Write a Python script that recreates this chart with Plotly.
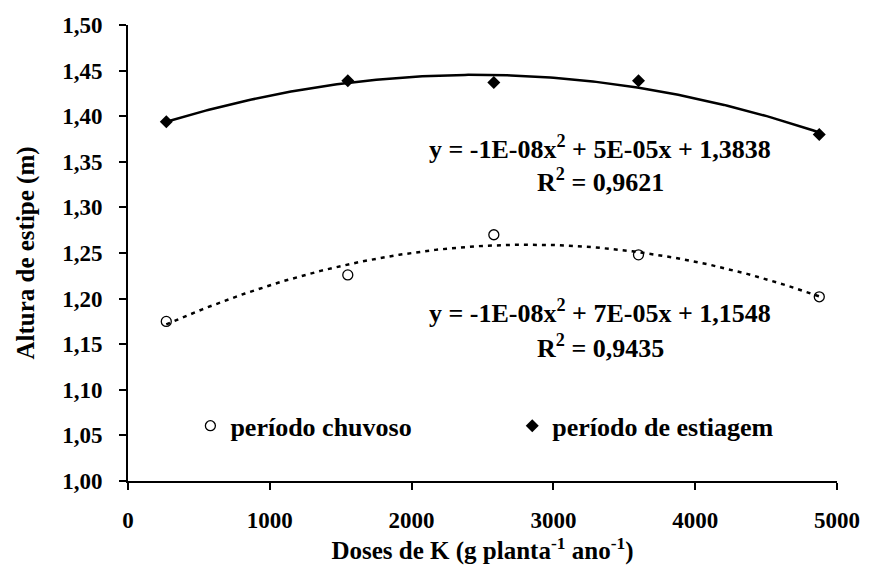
import numpy as np
import plotly.graph_objects as go

# Data
doses = [270, 1550, 2580, 3600, 4875]
chuvoso = [1.175, 1.226, 1.270, 1.248, 1.202]
estiagem = [1.394, 1.439, 1.437, 1.439, 1.380]

y_ticks = [1.00, 1.05, 1.10, 1.15, 1.20, 1.25, 1.30, 1.35, 1.40, 1.45, 1.50]
y_ticktext = ["1,00", "1,05", "1,10", "1,15", "1,20", "1,25", "1,30", "1,35", "1,40", "1,45", "1,50"]
x_ticks = [0, 1000, 2000, 3000, 4000, 5000]

eq_estiagem = ["y = -1E-08x<sup>2</sup> + 5E-05x + 1,3838", "R<sup>2</sup> = 0,9621"]
eq_chuvoso = ["y = -1E-08x<sup>2</sup> + 7E-05x + 1,1548", "R<sup>2</sup> = 0,9435"]

FONT = "Liberation Serif"

# Quadratic trend lines (regression of the data)
xs = np.linspace(min(doses), max(doses), 200)
fit_c = np.polyval(np.polyfit(doses, chuvoso, 2), xs)
fit_e = np.polyval(np.polyfit(doses, estiagem, 2), xs)

fig = go.Figure()
fig.add_trace(go.Scatter(x=xs, y=fit_e, mode="lines", line=dict(color="black", width=2.5),
                         showlegend=False, hoverinfo="skip"))
fig.add_trace(go.Scatter(x=xs, y=fit_c, mode="lines", line=dict(color="black", width=2.5, dash="4px,5px"),
                         showlegend=False, hoverinfo="skip"))
fig.add_trace(go.Scatter(x=doses, y=chuvoso, mode="markers", name="<b>período chuvoso</b>",
                         legend="legend",
                         marker=dict(symbol="circle-open", size=10, color="black", line=dict(width=1.3))))
fig.add_trace(go.Scatter(x=doses, y=estiagem, mode="markers", name="<b>período de estiagem</b>",
                         legend="legend2",
                         marker=dict(symbol="diamond", size=10, color="black")))

def eq_annot(lines, xc, y1, y2):
    out = []
    for txt, yy in zip(lines, (y1, y2)):
        out.append(dict(x=xc, y=yy, xref="x", yref="y", text="<b>" + txt + "</b>", showarrow=False,
                        font=dict(family=FONT, size=26, color="black"), xanchor="center", yanchor="middle"))
    return out

annots = eq_annot(eq_estiagem, 3330, 1.366, 1.330) + eq_annot(eq_chuvoso, 3330, 1.186, 1.148)

leg_common = dict(orientation="h", yanchor="middle", xanchor="left", bgcolor="rgba(0,0,0,0)",
                  font=dict(family=FONT, size=26, color="black"), itemwidth=30)

fig.update_layout(
    width=872, height=568,
    margin=dict(l=128, r=28, t=25, b=82),
    plot_bgcolor="white", paper_bgcolor="white",
    font=dict(family=FONT, size=18, color="black"),
    annotations=annots,
    legend=dict(x=0.088, y=0.121, **leg_common),
    legend2=dict(x=0.542, y=0.121, **leg_common),
    xaxis=dict(range=[0, 5000], tickvals=x_ticks, ticktext=["<b>%d</b>" % v for v in x_ticks],
               showline=True, linecolor="black", linewidth=2, ticks="outside", ticklen=7, tickwidth=2,
               tickcolor="black", showgrid=False, zeroline=False, ticklabelstandoff=10,
               tickfont=dict(family=FONT, size=23),
               title=dict(text="<b>Doses de K (g planta<sup>-1</sup> ano<sup>-1</sup>)</b>",
                          font=dict(family=FONT, size=25), standoff=6)),
    yaxis=dict(range=[1.0, 1.5], tickvals=y_ticks, ticktext=["<b>%s</b>" % t for t in y_ticktext],
               showline=True, linecolor="black", linewidth=2, ticks="outside", ticklen=7, tickwidth=2,
               tickcolor="black", showgrid=False, zeroline=False, ticklabelstandoff=12,
               tickfont=dict(family=FONT, size=23),
               title=dict(text="<b>Altura de estipe (m)</b>", font=dict(family=FONT, size=25), standoff=20)),
)

fig.write_html("out.html")
